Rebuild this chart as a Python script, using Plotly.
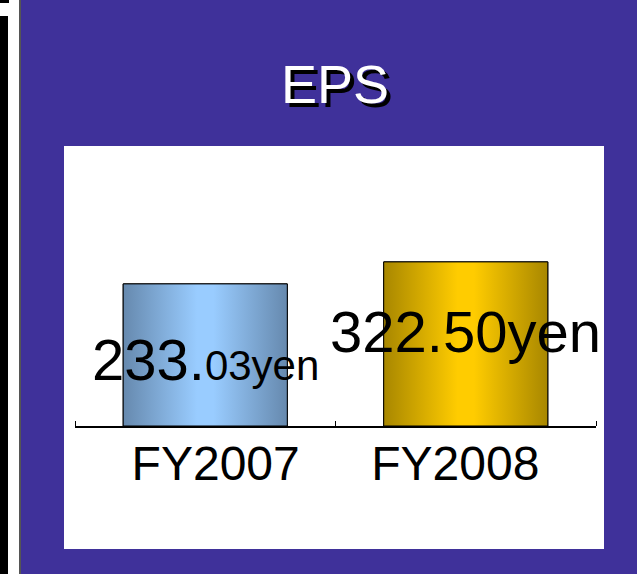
import plotly.graph_objects as go

# ---- data ----
categories = ["FY2007", "FY2008"]
eps_values = [233.03, 322.50]
value_labels = ["233.<span style='font-size:42px'>03yen</span>", "322.50yen"]
title_text = "EPS"

# ---- axis / style settings ----
Y_MIN = -345.0
Y_MAX = 737.0
BAR_WIDTH = 0.63
LABEL_OFFSETS = [0.04, -0.04]     # category label nudge (axis units)
LABEL_YSHIFT = [-76, -70]         # value label offset below bar top (px)
W, H = 637, 574
PURPLE = "#3F319A"
FONT = "Liberation Sans, Arial, sans-serif"
scales = [
    [[0, "#6689AE"], [0.45, "#99CCFF"], [0.55, "#99CCFF"], [1, "#6689AE"]],
    [[0, "#A88700"], [0.45, "#FFCC00"], [0.55, "#FFCC00"], [1, "#A88700"]],
]
mid_colors = ["#86AEDB", "#D6AC00"]

fig = go.Figure()
xs = list(range(len(categories)))

fig.add_trace(go.Bar(
    x=xs, y=[v - Y_MIN for v in eps_values], base=Y_MIN, width=BAR_WIDTH,
    marker=dict(color=mid_colors, line=dict(color="black", width=1)),
    hoverinfo="skip", showlegend=False,
))

# gradient overlay for each bar (same geometry as bars)
for i, v in enumerate(eps_values):
    x0, x1 = xs[i] - BAR_WIDTH / 2, xs[i] + BAR_WIDTH / 2
    fig.add_trace(go.Scatter(
        x=[x0, x1, x1, x0, x0], y=[Y_MIN, Y_MIN, v, v, Y_MIN],
        mode="lines", fill="toself",
        fillgradient=dict(type="horizontal", colorscale=scales[i]),
        line=dict(color="black", width=1),
        hoverinfo="skip", showlegend=False,
    ))

for i, v in enumerate(eps_values):
    fig.add_annotation(
        x=xs[i], y=v, yshift=LABEL_YSHIFT[i], text=value_labels[i], showarrow=False,
        xanchor="center", yanchor="middle",
        font=dict(family=FONT, size=58, color="black"),
    )

# title with shadow
fig.add_annotation(
    x=335 / W, y=1 - 84 / H, xref="paper", yref="paper", text=title_text,
    showarrow=False, xanchor="center", yanchor="middle",
    font=dict(family=FONT, size=54, color="white", shadow="4px 4px 0px #000000"),
)

shapes = [
    # white panel
    dict(type="rect", xref="paper", yref="paper", x0=64 / W, x1=604 / W,
         y0=1 - 549 / H, y1=1 - 146 / H, fillcolor="white", line=dict(width=0), layer="below"),
    # left strip
    dict(type="rect", xref="paper", yref="paper", x0=0, x1=19 / W, y0=0, y1=1,
         fillcolor="white", line=dict(width=0), layer="below"),
    dict(type="rect", xref="paper", yref="paper", x0=0, x1=8 / W, y0=0, y1=1 - 16 / H,
         fillcolor="black", line=dict(width=0), layer="below"),
    dict(type="rect", xref="paper", yref="paper", x0=0, x1=9 / W, y0=1 - 3 / H, y1=1,
         fillcolor="black", line=dict(width=0), layer="below"),
    dict(type="rect", xref="paper", yref="paper", x0=19 / W, x1=21 / W, y0=0, y1=1,
         fillcolor="#555555", line=dict(width=0), layer="below"),
]

fig.update_layout(
    width=W, height=H, autosize=False,
    margin=dict(l=0, r=0, t=0, b=0),
    paper_bgcolor=PURPLE, plot_bgcolor="rgba(0,0,0,0)",
    shapes=shapes, showlegend=False,
    xaxis=dict(
        domain=[75 / W, 596 / W], range=[-0.5, len(categories) - 0.5],
        tickmode="array", tickvals=[x + o for x, o in zip(xs, LABEL_OFFSETS)],
        ticktext=categories,
        ticks="", showgrid=False, zeroline=False,
        showline=True, linecolor="black", linewidth=2,
        tickfont=dict(family=FONT, size=48, color="black"),
        ticklabelstandoff=-6,
        minor=dict(tick0=-0.5, dtick=1, ticks="inside", ticklen=5, tickcolor="black",
                   tickwidth=1, showgrid=False),
        fixedrange=True,
    ),
    yaxis=dict(
        domain=[1 - 426 / H, 1 - 160 / H], range=[Y_MIN, Y_MAX],
        visible=False, fixedrange=True,
    ),
)

fig.write_html("out.html", config={"displayModeBar": False},
               post_script="document.body.style.margin='0px';")
